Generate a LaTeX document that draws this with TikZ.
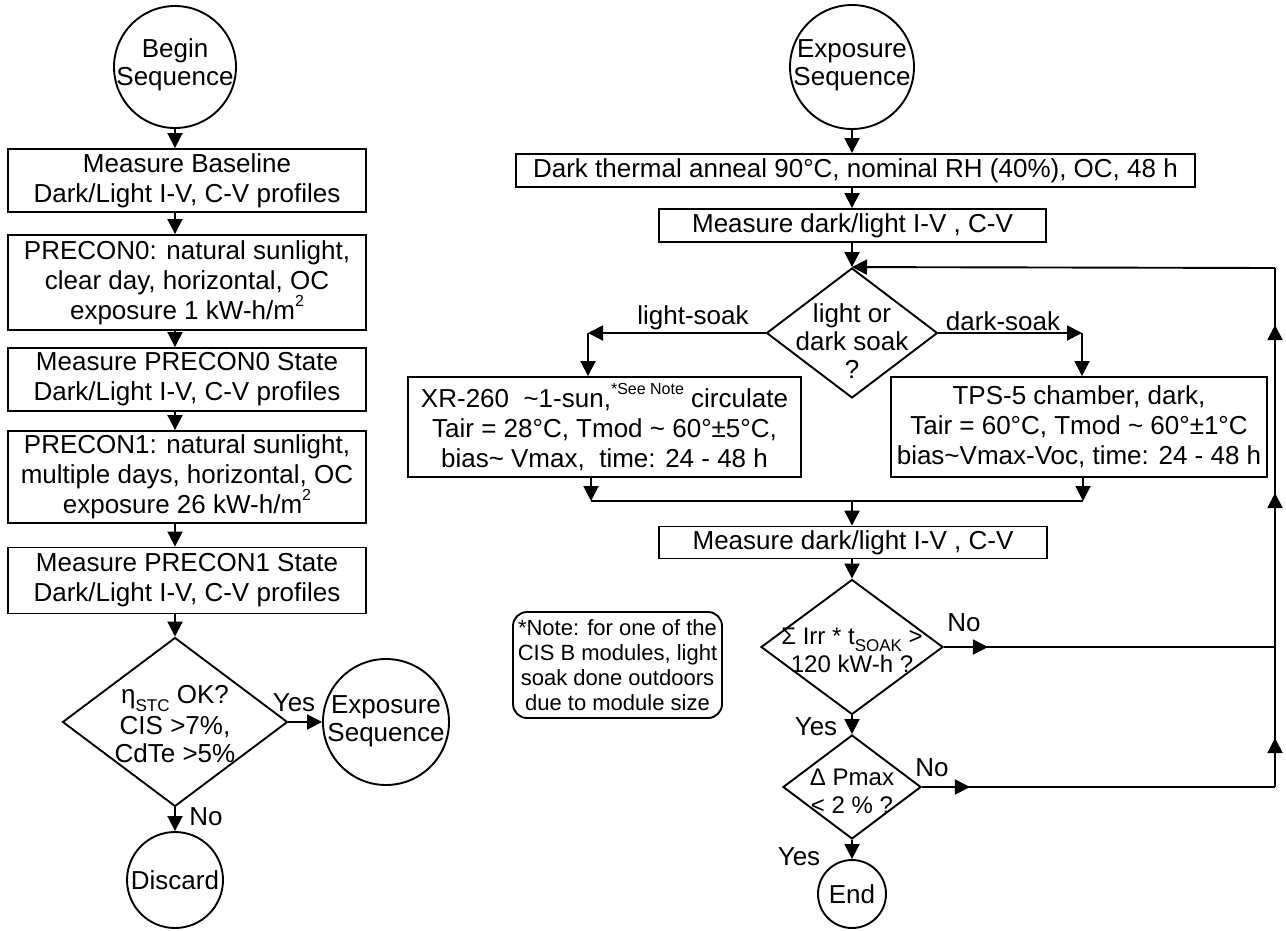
\documentclass[tikz,border=0pt]{standalone}
\usepackage{fontspec}
\setmainfont{Liberation Sans}
\usetikzlibrary{arrows.meta,shapes.geometric,decorations.markings}
\newcommand\fsz[2]{\fontsize{#1}{#2}\selectfont}
\newcommand\supr[1]{\raisebox{0.5em}{\fsz{16}{16}#1}}
\newcommand\subr[1]{\raisebox{-0.3em}{\fsz{17}{17}#1}}
\begin{document}
\begin{tikzpicture}[x=1pt,y=-1pt,
 lw/.style={line width=1.9pt},
 box/.style={draw,lw,rectangle,inner sep=0pt,align=center,font=\fsz{26}{30}},
 circ/.style={draw,lw,circle,inner sep=0pt,minimum size=#1},
 dia/.style 2 args={draw,lw,diamond,inner sep=0pt,minimum width=#1,minimum height=#2},
 txt/.style={inner sep=0pt,align=center,font=\fsz{26}{28}},
 stxt/.style={inner sep=0pt,align=center,font=\fsz{24}{28}},
 notebox/.style={draw,lw,rectangle,rounded corners=14pt,inner sep=0pt,align=center,font=\fsz{22}{25}},
 arr/.style={lw,-{Triangle[length=15pt,width=15pt]}},
 tipmark/.style={postaction={decorate},decoration={markings,mark=at position #1 with {\arrow{Triangle[length=15pt,width=15pt]}}}},
]
\useasboundingbox (0,0) rectangle (1286,930);

% ---------- left column ----------
\node[circ=122] (nBegin) at (175,67) {};
\node[txt] (tBegin) at (175,65) {Begin\\Sequence};
\node[box,minimum width=358,minimum height=63] (b1) at (187,180.5) {Measure Baseline\\Dark/Light I-V, C-V profiles};
\node[box,minimum width=358,minimum height=95] (b2) at (187,282.5) {PRECON0: natural sunlight,\\clear day, horizontal, OC\\exposure 1 kW-h/m\supr{2}};
\node[box,minimum width=358,minimum height=63] (b3) at (187,379.5) {Measure PRECON0 State\\Dark/Light I-V, C-V profiles};
\node[box,minimum width=358,minimum height=92] (b4) at (187,477) {PRECON1: natural sunlight,\\multiple days, horizontal, OC\\exposure 26 kW-h/m\supr{2}};
\node[box,minimum width=358,minimum height=66] (b5) at (187,580.5) {Measure PRECON1 State\\Dark/Light I-V, C-V profiles};
\node[dia={225}{169}] (d1) at (175,722) {};
\node[txt] (td1) at (175,724) {η\subr{STC} OK?\\[3pt]CIS >7\%,\\CdTe >5\%};
\node[circ=126] (nExpL) at (386,722) {};
\node[txt] (tExpL) at (386,721) {Exposure\\Sequence};
\node[circ=96] (nDisc) at (175,880) {};
\node[txt] (tDisc) at (175,880) {Discard};
\node[txt] (lYes1) at (294,703) {Yes};
\node[txt] (lNo1) at (206,817) {No};

\draw[arr] (nBegin.south) -- (nBegin.south |- b1.north);
\draw[arr] (b1.south -| nBegin) -- (b2.north -| nBegin);
\draw[arr] (b2.south -| nBegin) -- (b3.north -| nBegin);
\draw[arr] (b3.south -| nBegin) -- (b4.north -| nBegin);
\draw[arr] (b4.south -| nBegin) -- (b5.north -| nBegin);
\draw[arr] (b5.south -| nBegin) -- (d1.north);
\draw[arr] (d1.east) -- (nExpL.west);
\draw[arr] (d1.south) -- (nDisc.north);

% ---------- right column ----------
\node[circ=124] (nExpR) at (852,67) {};
\node[txt] (tExpR) at (852,65) {Exposure\\Sequence};
\node[box,minimum width=679,minimum height=33] (dt) at (855.5,170.5) {Dark thermal anneal 90°C, nominal RH (40\%), OC, 48 h};
\node[box,minimum width=387,minimum height=33] (m1) at (852.5,225.5) {Measure dark/light I-V , C-V};
\node[dia={171}{130}] (d2) at (852,333) {};
\node[txt] (td2) at (852,341) {light or\\dark soak\\?};
\node[box,minimum width=393,minimum height=100] (xr) at (604.5,427) {XR-260\ \ \textasciitilde{}1-sun,\supr{*See Note} circulate\\Tair = 28°C, Tmod \textasciitilde{} 60°±5°C,\\bias\textasciitilde{} Vmax,\ \ time: 24 - 48 h};
\node[box,minimum width=376,minimum height=100] (tps) at (1079,427) {TPS-5 chamber, dark,\\Tair = 60°C, Tmod \textasciitilde{} 60°±1°C\\bias\textasciitilde{}Vmax-Voc, time: 24 - 48 h};
\node[txt] (lLight) at (693,318) {light-soak};
\node[txt] (lDark) at (1003,321) {dark-soak};
\node[box,minimum width=388,minimum height=32] (m2) at (853,542.5) {Measure dark/light I-V , C-V};
\node[dia={182}{135}] (d3) at (852,647) {};
\node[stxt] (td3) at (852,650) {Σ Irr * t\subr{SOAK} >\\120 kW-h ?};
\node[dia={138}{104}] (d4) at (852,787) {};
\node[stxt] (td4) at (852,791) {Δ Pmax\\< 2 \% ?};
\node[circ=68] (nEnd) at (852,894) {};
\node[txt] (tEnd) at (852,894) {End};
\node[txt] (lNo2) at (964,623) {No};
\node[txt] (lNo3) at (932,768) {No};
\node[txt] (lYes2) at (816,727) {Yes};
\node[txt] (lYes3) at (799,857) {Yes};
\node[notebox,minimum width=209,minimum height=106] (note) at (617.5,665) {*Note: for one of the\\CIS B modules, light\\soak done outdoors\\due to module size};

\coordinate (ls) at (588,333);
\coordinate (ds) at (1082,333);
\coordinate (mL) at (591,501);
\coordinate (mR) at (1083,501);
\coordinate (mC) at (852,501);
\coordinate (rb) at (1275,787);
\coordinate (rt) at (1275,268);

\draw[arr] (nExpR.south) -- (nExpR.south |- dt.north);
\draw[arr] (dt.south -| nExpR) -- (m1.north -| nExpR);
\draw[arr] (m1.south -| nExpR) -- (d2.north);
\draw[arr] (d2.west) -- (ls);
\draw[arr] (ls) -- (ls |- xr.north);
\draw[arr] (d2.east) -- (ds);
\draw[arr] (ds) -- (ds |- tps.north);
\draw[arr] (xr.south -| mL) -- (mL);
\draw[arr] (tps.south -| mR) -- (mR);
\draw[lw] (mL) -- (mR);
\draw[arr] (mC) -- (mC |- m2.north);
\draw[arr] (m2.south -| d3) -- (d3.north);
\draw[arr] (d3.south) -- (d4.north);
\draw[arr] (d4.south) -- (nEnd.north);
\draw[lw,tipmark=44pt] (d3.east) -- (d3.east -| rb);
\draw[lw,tipmark=48pt] (d4.east) -- (rb);
\draw[lw,postaction={decorate},decoration={markings,
  mark=at position 49pt with {\arrow{Triangle[length=15pt,width=15pt]}},
  mark=at position 294pt with {\arrow{Triangle[length=15pt,width=15pt]}},
  mark=at position 462pt with {\arrow{Triangle[length=15pt,width=15pt]}}}] (rb) -- (rt);
\draw[arr] (rt) -- (d2.north);
\end{tikzpicture}
\end{document}
